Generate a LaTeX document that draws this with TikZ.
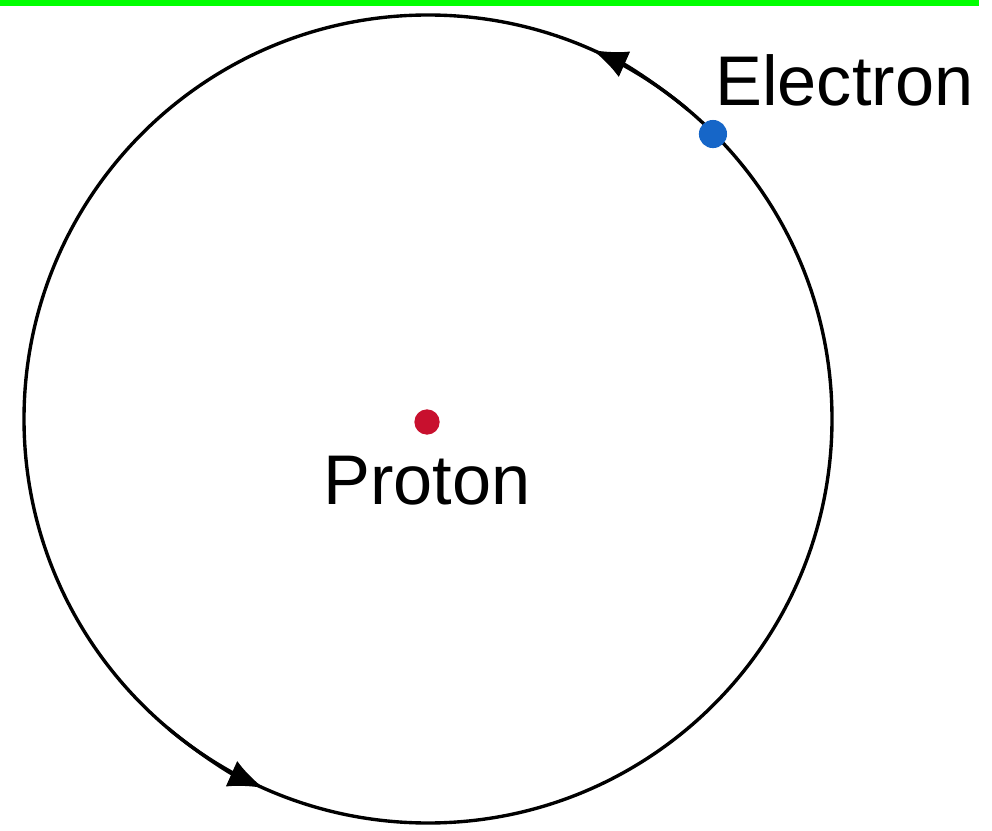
\documentclass[tikz,border=0pt]{standalone}
\usepackage{fontspec}
\setmainfont{Liberation Sans}
\usetikzlibrary{arrows.meta,calc}
\definecolor{barGreen}{RGB}{0,255,0}
\definecolor{electronBlue}{RGB}{22,102,200}
\definecolor{protonRed}{RGB}{200,16,46}
\begin{document}
\begin{tikzpicture}[x=0.025cm, y=0.025cm, line join=round, line cap=round, font=\fontsize{50}{60}\selectfont,
  orbit/.style={line width=2.4pt},
  tip/.style={-{Latex[length=25pt, width=20pt]}},
  dot/.style={circle, inner sep=0pt, minimum size=#1}]
\useasboundingbox (0,0) rectangle (992,830);
\fill[barGreen] (0,824) rectangle (979,830);
\coordinate (C) at (428,411);
\draw[orbit] (C) circle (404);
\draw[orbit, tip] (C) ++(50:404) arc[start angle=50, end angle=66, radius=404];
\draw[orbit, tip] (C) ++(230:404) arc[start angle=230, end angle=246, radius=404];
\node[dot=20pt, fill=electronBlue] (electron) at ($(C)+(45:403)$) {};
\node[dot=18pt, fill=protonRed] (proton) at (427,408) {};
\node[anchor=base west, inner sep=0pt] (electronLabel) at (715,724) {Electron};
\node[anchor=base, inner sep=0pt] (protonLabel) at (427,325) {Proton};
\end{tikzpicture}
\end{document}
